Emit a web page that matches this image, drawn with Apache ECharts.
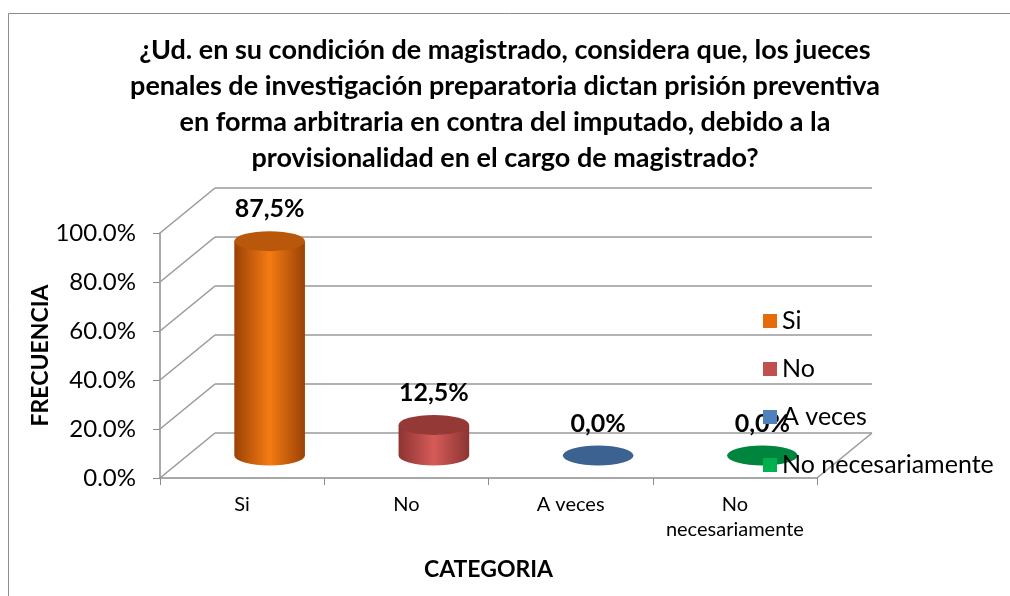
<!DOCTYPE html>
<html>
<head>
<meta charset="utf-8">
<script src="https://cdn.jsdelivr.net/npm/echarts@6/dist/echarts.min.js"></script>
<style>
html,body{margin:0;padding:0;background:#fff;}
#main{width:1010px;height:596px;}
</style>
</head>
<body>
<div id="main"></div>
<script>
var categories = ['Si', 'No', 'A veces', 'No\nnecesariamente'];
var seriesNames = ['Si', 'No', 'A veces', 'No necesariamente'];
var values = [87.5, 12.5, 0.0, 0.0];
var valueLabels = ['87,5%', '12,5%', '0,0%', '0,0%'];
var yTicks = [0, 20, 40, 60, 80, 100];

// colores por punto: leyenda, borde oscuro, centro claro, tapa
var colors = ['#E46C0A', '#C0504D', '#4F81BD', '#00B050'];
var darkColors = ['#9A4206', '#8C3432', '#375C8A', '#00733A'];
var lightColors = ['#F57B12', '#D65B58', '#5B8CC8', '#00C05A'];
var capColors = ['#B9580A', '#953937', '#3B6291', '#00853F'];

var DX = 55, DY = -45;   // profundidad 3D
var FONT = 'Lato, "Open Sans", sans-serif';

var myChart = echarts.init(document.getElementById('main'));

function renderWall(params, api){
    var cs = params.coordSys;
    var y = api.coord([0, api.value(1)])[1];
    var x0 = cs.x, x1 = cs.x + cs.width;
    var st = {stroke: '#9a9a9a', lineWidth: 1.6};
    var children = [
        {type: 'line', shape: {x1: x0, y1: y, x2: x0 + DX, y2: y + DY}, style: st},
        {type: 'line', shape: {x1: x0 + DX, y1: y + DY, x2: x1 + DX, y2: y + DY}, style: st}
    ];
    if(api.value(1) == 0){
        children.push({type: 'line', shape: {x1: x1, y1: y, x2: x1 + DX, y2: y + DY}, style: st});
    }
    return {type: 'group', children: children};
}

function makeCylinder(k){
    return function(params, api){
        var idx = api.value(0);
        var top = api.coord([idx, api.value(1)]);
        var base = api.coord([idx, 0]);
        var cx = top[0] + DX / 2;
        var ty = top[1] + DY / 2;
        var by = base[1] + DY / 2;
        var rx = api.size([1, 0])[0] * 0.215;
        var ry = 10;
        var children = [];
        if(by - ty > 0.5){
            var body = 'M' + (cx - rx) + ' ' + ty + ' L' + (cx - rx) + ' ' + by +
                ' A' + rx + ' ' + ry + ' 0 0 0 ' + (cx + rx) + ' ' + by +
                ' L' + (cx + rx) + ' ' + ty + ' Z';
            children.push({
                type: 'path',
                shape: {pathData: body},
                style: {
                    fill: new echarts.graphic.LinearGradient(0, 0, 1, 0, [
                        {offset: 0, color: darkColors[k]},
                        {offset: 0.5, color: lightColors[k]},
                        {offset: 1, color: darkColors[k]}
                    ])
                }
            });
        }
        var cap = 'M' + (cx - rx) + ' ' + ty +
            ' A' + rx + ' ' + ry + ' 0 1 0 ' + (cx + rx) + ' ' + ty +
            ' A' + rx + ' ' + ry + ' 0 1 0 ' + (cx - rx) + ' ' + ty + ' Z';
        children.push({type: 'path', shape: {pathData: cap}, style: {fill: capColors[k]}});
        children.push({
            type: 'text',
            style: {
                text: valueLabels[k], x: cx, y: ty - 32,
                align: 'center', verticalAlign: 'middle',
                font: 'bold 25px ' + FONT, fill: '#000'
            }
        });
        return {type: 'group', children: children};
    };
}

var series = [{
    type: 'custom',
    name: 'wall',
    silent: true,
    renderItem: renderWall,
    encode: {x: 0, y: 1},
    data: yTicks.map(function(t){ return [0, t]; }),
    z: 1
}];
for(var i = 0; i < seriesNames.length; i++){
    series.push({
        type: 'custom',
        name: seriesNames[i],
        renderItem: makeCylinder(i),
        itemStyle: {color: colors[i]},
        encode: {x: 0, y: 1},
        data: [[i, values[i]]],
        z: 2
    });
}

var option = {
    animation: false,
    title: {
        text: '¿Ud. en su condición de magistrado, considera que, los jueces\npenales de investigación preparatoria dictan prisión preventiva\nen forma arbitraria en contra del imputado, debido a la\nprovisionalidad en el cargo de magistrado?',
        left: 'center',
        top: 32,
        padding: 0,
        textStyle: {fontFamily: FONT, fontWeight: 'bold', fontSize: 27, lineHeight: 36, color: '#000'}
    },
    graphic: [{
        type: 'rect',
        shape: {x: 8.5, y: 13.5, width: 1100, height: 700},
        style: {fill: 'none', stroke: '#8c8c8c', lineWidth: 1}
    }],
    legend: {
        data: seriesNames,
        orient: 'vertical',
        left: 763,
        top: 307,
        padding: 0,
        itemWidth: 14,
        itemHeight: 14,
        itemGap: 20,
        icon: 'rect',
        textStyle: {fontFamily: FONT, fontSize: 25, lineHeight: 28, color: '#000'}
    },
    grid: {left: 160, top: 233, width: 657, height: 245},
    xAxis: {
        type: 'category',
        data: categories,
        name: 'CATEGORIA',
        nameLocation: 'middle',
        nameGap: 80,
        nameTextStyle: {fontFamily: FONT, fontWeight: 'bold', fontSize: 23, color: '#000'},
        axisLine: {lineStyle: {color: '#8c8c8c', width: 1.5}},
        axisTick: {show: true, length: 7, lineStyle: {color: '#8c8c8c'}},
        axisLabel: {fontFamily: FONT, fontSize: 20, lineHeight: 25, color: '#000', margin: 14, interval: 0}
    },
    yAxis: {
        type: 'value',
        min: 0,
        max: 100,
        interval: 20,
        name: 'FRECUENCIA',
        nameLocation: 'middle',
        nameGap: 108,
        nameMoveOverlap: false,
        nameRotate: 90,
        nameTextStyle: {fontFamily: FONT, fontWeight: 'bold', fontSize: 23, color: '#000'},
        axisLine: {show: true, lineStyle: {color: '#8c8c8c', width: 1.5}},
        axisTick: {show: true, length: 7, lineStyle: {color: '#8c8c8c'}},
        splitLine: {show: false},
        axisLabel: {
            fontFamily: FONT, fontSize: 24, color: '#000', margin: 24,
            formatter: function(v){ return v.toFixed(1) + '%'; }
        }
    },
    series: series
};
myChart.setOption(option);
</script>
</body>
</html>
